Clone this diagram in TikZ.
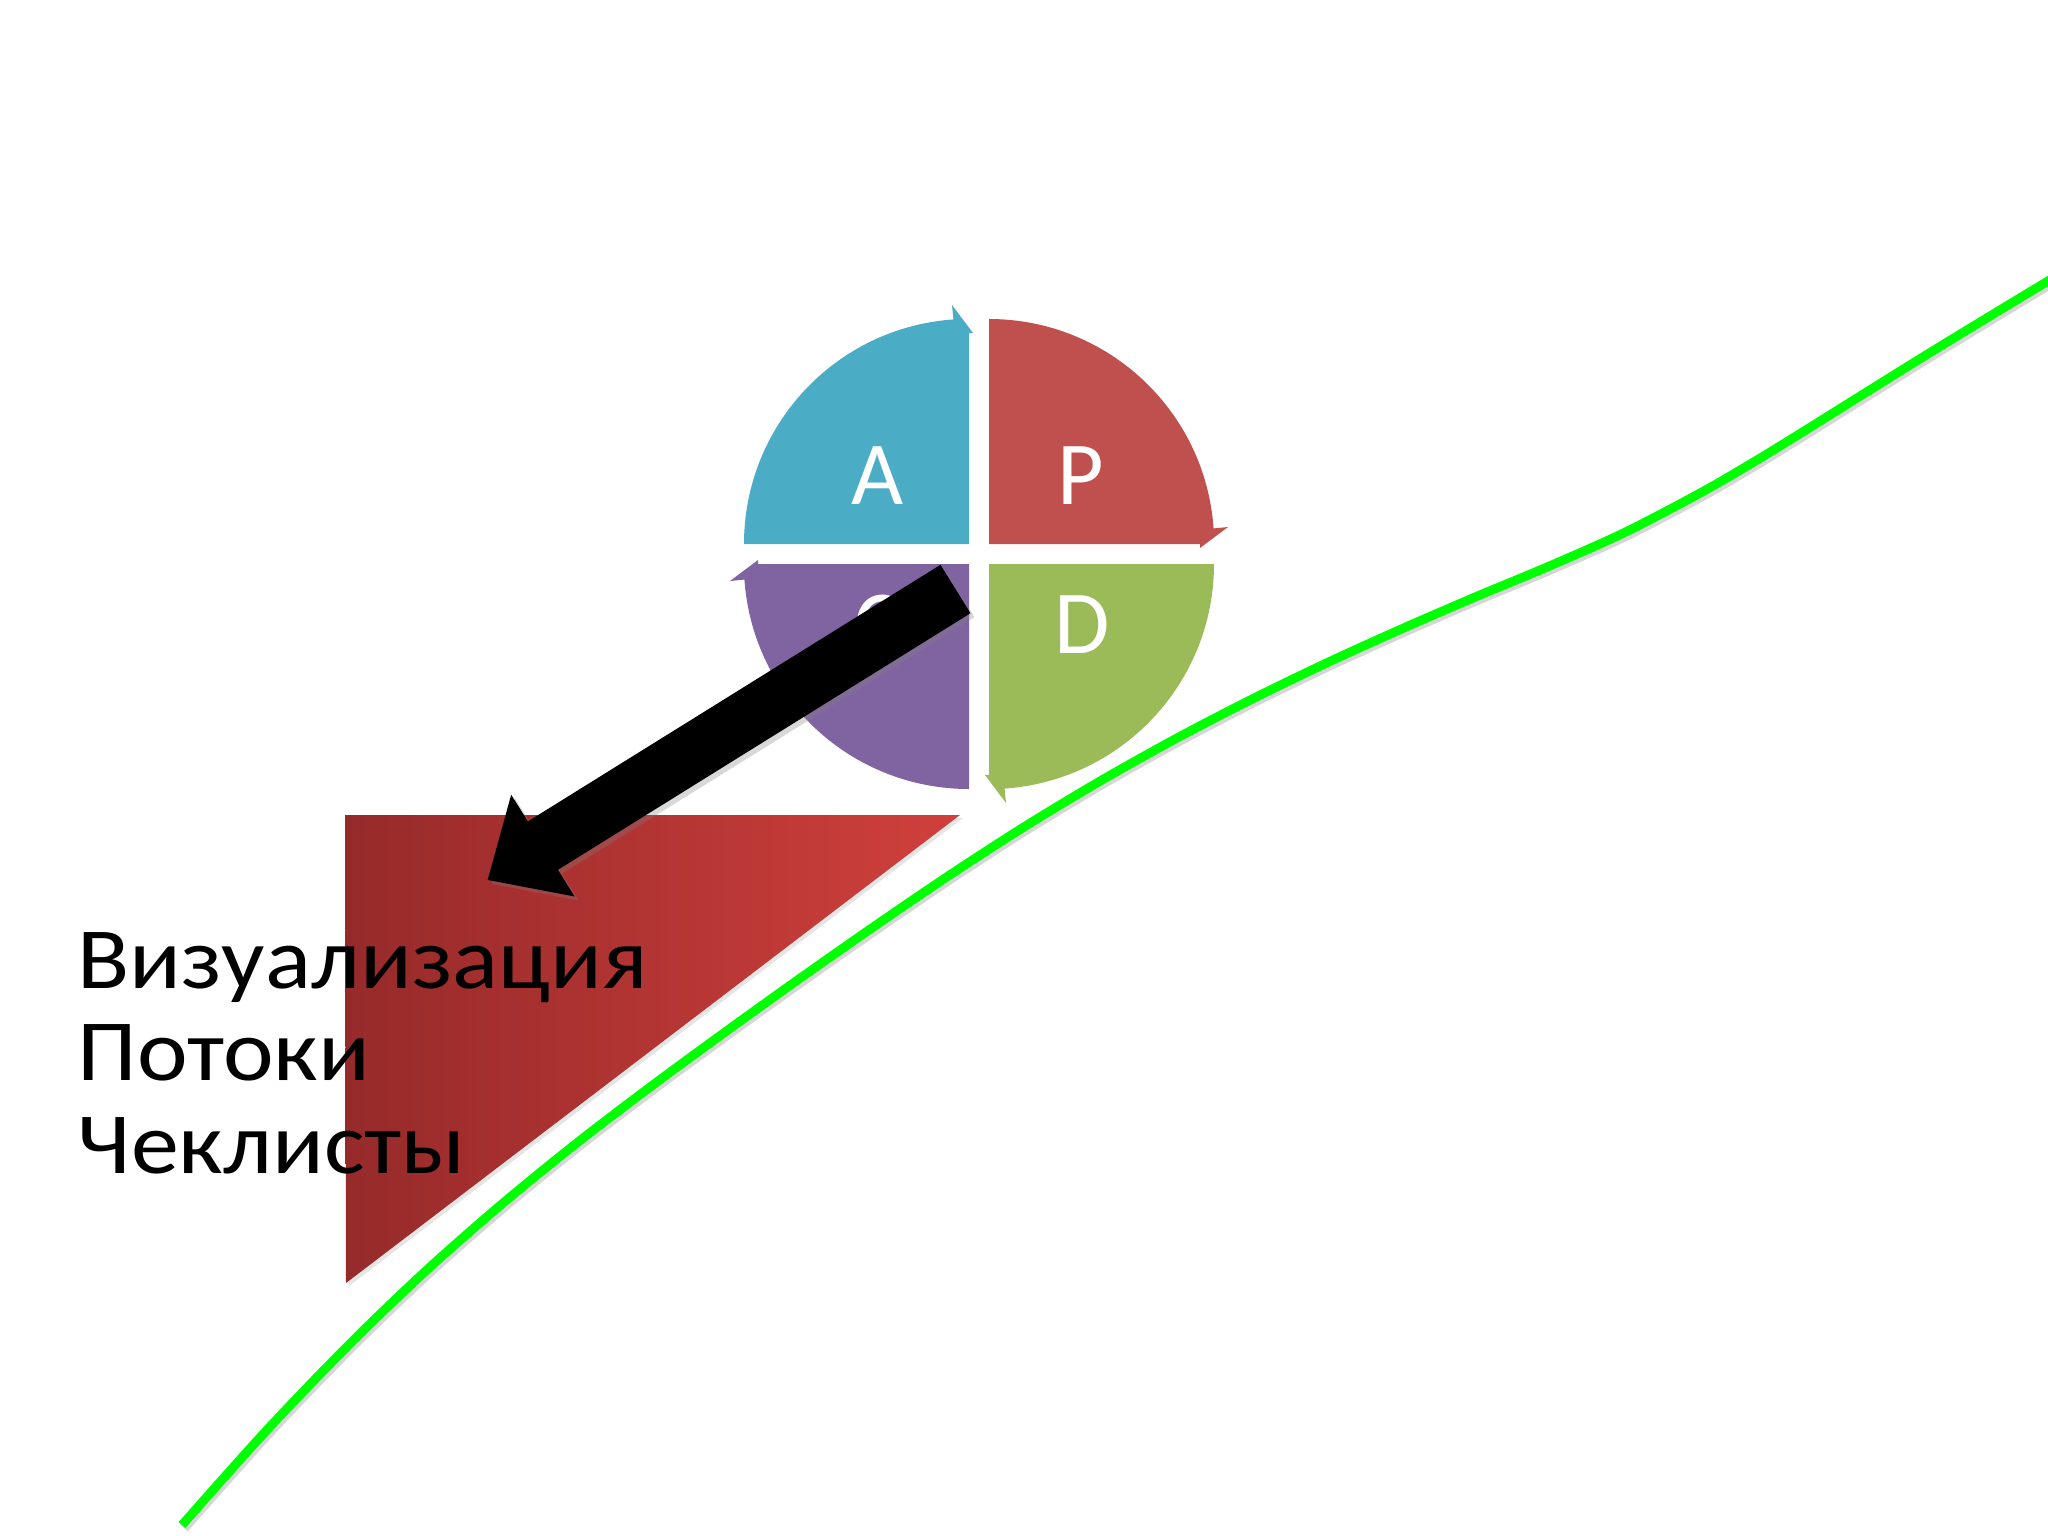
\documentclass[tikz,border=0pt]{standalone}
\usepackage{fontspec}
\usepackage{graphicx}
\setmainfont{Carlito}
\definecolor{qblue}{HTML}{4BACC6}
\definecolor{qred}{HTML}{C0504D}
\definecolor{qgreen}{HTML}{9BBB59}
\definecolor{qpurple}{HTML}{8064A2}
\definecolor{grline}{HTML}{00FF00}
\definecolor{trileft}{RGB}{150,42,42}
\definecolor{triright}{RGB}{208,64,60}
\newcommand\bigtextfont{\fontsize{24.8pt}{30pt}\selectfont}
\newcommand\letterfont{\fontsize{25.6pt}{30pt}\selectfont}
\newcommand\widetext[1]{\scalebox{1.1}[1.0]{#1}}
\newcommand\curvepts{(182,-1525) (266,-1430.9) (350,-1343.6) (425,-1271.6) (500,-1205.6) (575,-1144.4) (650,-1087.1) (725,-1032.1) (800,-978.3) (875,-925.8) (950,-874.8) (1025,-826.3) (1100,-781.1) (1175,-739.1) (1250,-700.1) (1325,-663.7) (1400,-629.6) (1475,-597.1) (1550,-565.8) (1625,-532.3) (1700,-493.1) (1750,-464.2) (1800,-433.6) (1930,-352.6) (2060,-273.7)}
\tikzset{
  quad/.style={draw=none},
  letter/.style={text=white, font=\letterfont, inner sep=0pt},
  label/.style={anchor=base west, inner sep=0pt, font=\bigtextfont, text=black},
  curve/.style={grline, line width=0.09cm},
}
\begin{document}
\begin{tikzpicture}[x=0.01cm,y=0.01cm]
\useasboundingbox (0,0) rectangle (2048,-1536);
\fill[white] (0,0) rectangle (2048,-1536);

% red triangle
\fill[black!40, opacity=0.25] (348,-818) -- (963,-818) -- (349,-1286) -- cycle;
\shade[left color=trileft, right color=triright] (345,-815) -- (960,-815) -- (346,-1283) -- cycle;

% PDCA quadrants
\begin{scope}[shift={(979,-554)}]
  \fill[qblue, quad] (-10,10) -- (-235,10) arc[start angle=180,end angle=94,radius=2.25cm] -- (-27,249) -- (-6,221) -- (-10,221) -- cycle;
\end{scope}
\begin{scope}[shift={(979,-554)}, rotate=-90]
  \fill[qred, quad] (-10,10) -- (-235,10) arc[start angle=180,end angle=94,radius=2.25cm] -- (-27,249) -- (-6,221) -- (-10,221) -- cycle;
\end{scope}
\begin{scope}[shift={(979,-554)}, rotate=-180]
  \fill[qgreen, quad] (-10,10) -- (-235,10) arc[start angle=180,end angle=94,radius=2.25cm] -- (-27,249) -- (-6,221) -- (-10,221) -- cycle;
\end{scope}
\begin{scope}[shift={(979,-554)}, rotate=-270]
  \fill[qpurple, quad] (-10,10) -- (-235,10) arc[start angle=180,end angle=94,radius=2.25cm] -- (-27,249) -- (-6,221) -- (-10,221) -- cycle;
\end{scope}

\node[letter] (lA) at (878,-476) {A};
\node[letter] (lP) at (1081,-476) {P};
\node[letter] (lD) at (1082,-625) {D};
\node[letter] (lC) at (878,-625) {C};

% black block arrow with soft shadow
\fill[black!50, opacity=0.3] (944.5,-568.8) -- (974.5,-617.2) -- (561.9,-873.8) -- (578.6,-900.5) -- (491.7,-883.9) -- (515.2,-798.7) -- (531.9,-825.4) -- cycle;
\fill[black] (940.5,-564.8) -- (970.5,-613.2) -- (557.9,-869.8) -- (574.6,-896.5) -- (487.7,-879.9) -- (511.2,-794.7) -- (527.9,-821.4) -- cycle;

% text
\node[label] (t1) at (77,-988) {\widetext{Визуализация}};
\node[label] (t2) at (77,-1080) {\widetext{Потоки}};
\node[label] (t3) at (77,-1173) {\widetext{Чеклисты}};

% green curve with shadow
\begin{scope}[shift={(2,-3)}]
\draw[black!45, opacity=0.35, line width=0.1cm] plot[smooth, tension=0.5] coordinates {\curvepts};
\end{scope}
\draw[curve] plot[smooth, tension=0.5] coordinates {\curvepts};
\end{tikzpicture}
\end{document}
